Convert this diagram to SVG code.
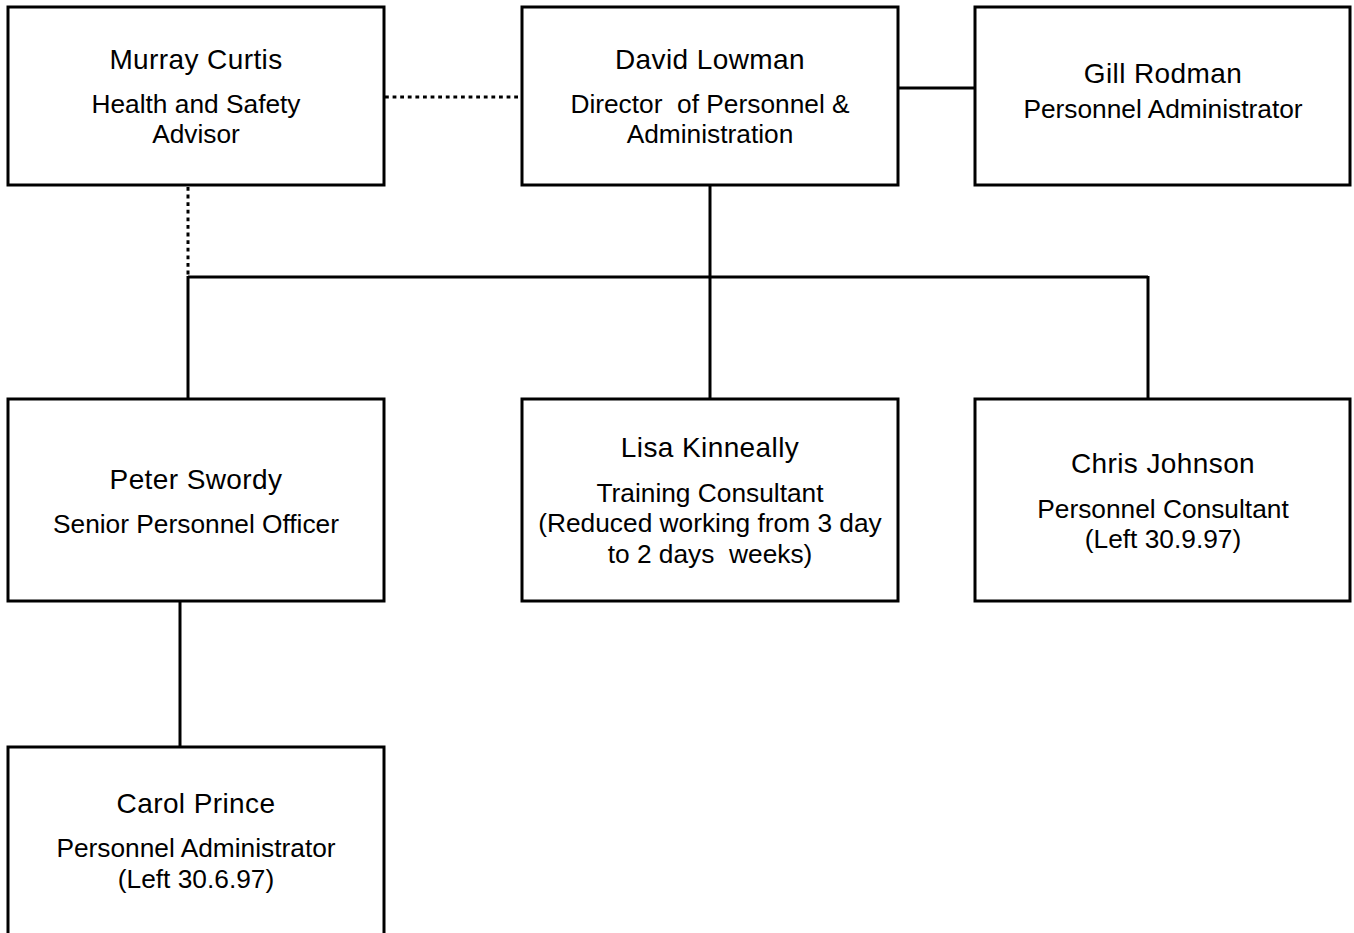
<svg xmlns="http://www.w3.org/2000/svg" width="1354" height="933" viewBox="0 0 1354 933">
<style>
.box{fill:#fff;stroke:#000;stroke-width:3}
.ln{fill:none;stroke:#000;stroke-width:3}
.dot{fill:none;stroke:#000;stroke-width:3;stroke-dasharray:3.8 3.8}
text{font-family:"Liberation Sans",Arial,sans-serif;fill:#000;text-anchor:middle}
.nm{font-size:28px;letter-spacing:0.4px}
.sb{font-size:26.3px}
</style>
<rect width="1354" height="933" fill="#fff"/>
<g id="connectors">
<line class="dot" x1="385" y1="97" x2="521" y2="97"/>
<line class="dot" x1="188" y1="187" x2="188" y2="277"/>
<line class="ln" x1="898" y1="88" x2="975" y2="88"/>
<line class="ln" x1="710" y1="185" x2="710" y2="399"/>
<line class="ln" x1="188" y1="277" x2="1148" y2="277"/>
<line class="ln" x1="188" y1="276" x2="188" y2="399"/>
<line class="ln" x1="1148" y1="276" x2="1148" y2="399"/>
<line class="ln" x1="180" y1="601" x2="180" y2="747"/>
</g>
<g id="murray">
<rect class="box" x="8" y="7" width="376" height="178"/>
<text class="nm" x="196" y="69">Murray Curtis</text>
<text class="sb" x="196" y="113">Health and Safety</text>
<text class="sb" x="196" y="143">Advisor</text>
</g>
<g id="david">
<rect class="box" x="522" y="7" width="376" height="178"/>
<text class="nm" x="710" y="69">David Lowman</text>
<text class="sb" x="710" y="113" xml:space="preserve">Director  of Personnel &amp;</text>
<text class="sb" x="710" y="143">Administration</text>
</g>
<g id="gill">
<rect class="box" x="975" y="7" width="375" height="178"/>
<text class="nm" x="1163" y="83">Gill Rodman</text>
<text class="sb" x="1163" y="118">Personnel Administrator</text>
</g>
<g id="peter">
<rect class="box" x="8" y="399" width="376" height="202"/>
<text class="nm" x="196" y="489">Peter Swordy</text>
<text class="sb" x="196" y="533">Senior Personnel Officer</text>
</g>
<g id="lisa">
<rect class="box" x="522" y="399" width="376" height="202"/>
<text class="nm" x="710" y="457">Lisa Kinneally</text>
<text class="sb" x="710" y="502">Training Consultant</text>
<text class="sb" x="710" y="532">(Reduced working from 3 day</text>
<text class="sb" x="710" y="563" xml:space="preserve">to 2 days  weeks)</text>
</g>
<g id="chris">
<rect class="box" x="975" y="399" width="375" height="202"/>
<text class="nm" x="1163" y="473">Chris Johnson</text>
<text class="sb" x="1163" y="518">Personnel Consultant</text>
<text class="sb" x="1163" y="548">(Left 30.9.97)</text>
</g>
<g id="carol">
<rect class="box" x="8" y="747" width="376" height="200"/>
<text class="nm" x="196" y="813">Carol Prince</text>
<text class="sb" x="196" y="857">Personnel Administrator</text>
<text class="sb" x="196" y="888">(Left 30.6.97)</text>
</g>
</svg>
